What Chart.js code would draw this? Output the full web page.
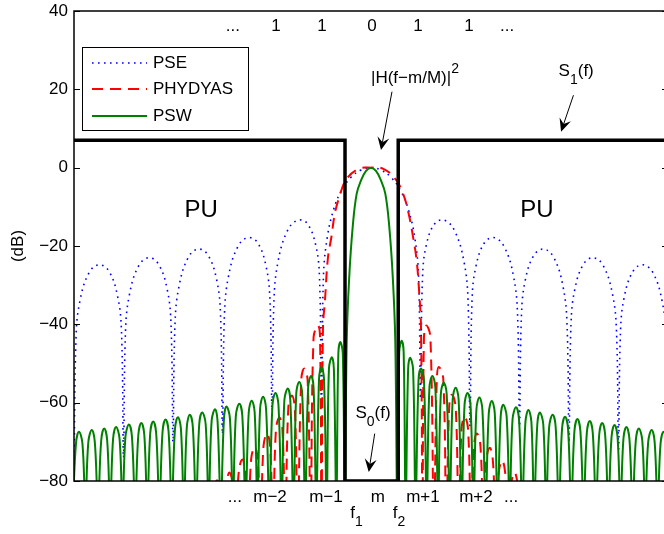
<!DOCTYPE html>
<html>
<head>
<meta charset="utf-8">
<script src="https://cdn.jsdelivr.net/npm/chart.js@4/dist/chart.umd.min.js"></script>
<style>
  html, body { margin: 0; padding: 0; background: #fff; overflow: hidden; }
</style>
</head>
<body>
<canvas id="graph" width="680" height="534"></canvas>
<script>
// x is in subcarrier spacings around m, y in dB

const tickPos = [-2.75, -2.04, -0.91, 0.14, 1.05, 2.12, 2.83]
const tickLabels = ['...', 'm\u22122', 'm\u22121', 'm', 'm+1', 'm+2', '...']

const topLabels = ['...', '1', '1', '0', '1', '1', '...']
const topLabelX = [-2.79, -1.92, -0.99, 0.02, 0.95, 1.98, 2.75]

const seriesNames = ['PSE', 'PHYDYAS', 'PSW']

const pseX = [
  -6.0, -5.96, -5.88, -5.7, -5.5, -5.3, -5.12, -5.04,
  -5.0, -4.96, -4.88, -4.7, -4.5, -4.3, -4.12, -4.04,
  -4.0, -3.96, -3.88, -3.7, -3.5, -3.3, -3.12, -3.04,
  -3.0, -2.96, -2.88, -2.7, -2.5, -2.3, -2.12, -2.04,
  -2.0, -1.96, -1.88, -1.7, -1.5, -1.3, -1.12, -1.04,
  -1.0, -0.96, -0.88, -0.75, -0.6, -0.4, -0.2, 0,
  0.2, 0.4, 0.6, 0.75, 0.88, 0.96, 1.0,
  1.04, 1.12, 1.3, 1.5, 1.7, 1.88, 1.96, 2.0,
  2.04, 2.12, 2.3, 2.5, 2.7, 2.88, 2.96, 3.0,
  3.04, 3.12, 3.3, 3.5, 3.7, 3.88, 3.96, 4.0,
  4.04, 4.12, 4.3, 4.5, 4.7, 4.88, 4.96, 5.0,
  5.04, 5.12, 5.3, 5.5, 5.7, 5.88, 5.96, 6.0
]
const pseY = [
  -85, -43.5, -34.0, -26.9, -24.8, -26.3, -32.8, -42.0,
  -74, -41.9, -32.4, -25.2, -23.0, -24.5, -30.9, -40.1,
  -70, -39.9, -30.4, -23.1, -20.8, -22.2, -28.5, -37.6,
  -68, -37.4, -27.8, -20.4, -17.9, -19.0, -25.2, -34.2,
  -62, -33.8, -24.1, -16.4, -13.5, -14.1, -19.6, -28.3,
  -60, -27.6, -17.5, -10.5, -5.9, -2.4, -0.6, 0,
  -0.6, -2.4, -5.9, -10.5, -17.5, -27.6, -59,
  -28.3, -19.6, -14.1, -13.5, -16.4, -24.1, -33.8, -66,
  -34.2, -25.2, -19.0, -17.9, -20.4, -27.8, -37.4, -66,
  -37.6, -28.5, -22.2, -20.8, -23.1, -30.4, -39.9, -70,
  -40.1, -30.9, -24.5, -23.0, -25.2, -32.4, -41.9, -72,
  -42.0, -32.8, -26.3, -24.8, -26.9, -34.0, -43.5, -85
]

// each sidelobe: null, shoulder, peak, shoulder
const phydyasX = [
  -3.23, -3.17, -3.11, -3.04,
  -2.98, -2.92, -2.86, -2.79,
  -2.73, -2.67, -2.6, -2.54,
  -2.48, -2.42, -2.35, -2.29,
  -2.23, -2.17, -2.1, -2.04,
  -1.98, -1.92, -1.85, -1.79,
  -1.73, -1.67, -1.6, -1.54,
  -1.48, -1.41, -1.35, -1.28,
  -1.22, -1.16, -1.07, -1.03,
  -1.0, -0.97, -0.93, -0.87, -0.8, -0.73, -0.63, -0.5, -0.25, 0,
  0.25, 0.5, 0.66, 0.76, 0.85, 0.92, 0.97, 1.01,
  1.04, 1.07, 1.12, 1.2,
  1.27, 1.33, 1.37, 1.46,
  1.52, 1.58, 1.63, 1.71,
  1.77, 1.83, 1.89, 1.96,
  2.02, 2.08, 2.14, 2.21,
  2.27, 2.33, 2.4, 2.46,
  2.52, 2.58, 2.65, 2.71,
  2.77, 2.83, 2.9, 2.96,
  3.02, 3.08, 3.15, 3.21, 3.27
]
const phydyasY = [
  -90, -82.8, -79.8, -82.8,
  -90, -80.8, -77.8, -80.8,
  -90, -77.5, -74.5, -77.5,
  -90, -74.3, -71.3, -74.3,
  -90, -70.9, -67.9, -70.9,
  -90, -66.8, -63.8, -66.8,
  -90, -61.2, -58.2, -61.2,
  -90, -54.3, -51.3, -54.3,
  -90, -43.3, -40.3, -43.3,
  -90, -40.8, -33.9, -23, -17.7, -11.7, -7.1, -3, -0.3, 0,
  -0.3, -3, -7.1, -11.7, -17.7, -23.5, -31.2, -40.8,
  -90, -43.3, -40.3, -43.3,
  -90, -53.9, -50.9, -53.9,
  -90, -61, -58, -61,
  -90, -66.6, -63.6, -66.6,
  -90, -70.9, -67.9, -70.9,
  -90, -74.5, -71.5, -74.5,
  -90, -77.8, -74.8, -77.8,
  -90, -80.8, -77.8, -80.8,
  -90, -82.8, -79.8, -82.8, -90
]

// each sidelobe: null, shoulder, peak, shoulder
const pswX = [
  -6.02, -5.96, -5.90, -5.83,
  -5.77, -5.71, -5.64, -5.58,
  -5.515, -5.45, -5.39, -5.33,
  -5.27, -5.21, -5.15, -5.08,
  -5.02, -4.96, -4.89, -4.83,
  -4.765, -4.70, -4.64, -4.58,
  -4.52, -4.46, -4.40, -4.34,
  -4.275, -4.21, -4.15, -4.09,
  -4.025, -3.96, -3.90, -3.84,
  -3.78, -3.72, -3.66, -3.60,
  -3.535, -3.47, -3.41, -3.34,
  -3.28, -3.22, -3.15, -3.10,
  -3.035, -2.97, -2.92, -2.85,
  -2.79, -2.73, -2.66, -2.60,
  -2.535, -2.47, -2.41, -2.35,
  -2.295, -2.24, -2.18, -2.12,
  -2.055, -1.99, -1.93, -1.87,
  -1.805, -1.75, -1.68, -1.63,
  -1.565, -1.51, -1.45, -1.39,
  -1.33, -1.27, -1.21, -1.16,
  -1.105, -1.05, -1.00, -0.95,
  -0.895, -0.85, -0.79, -0.75,
  -0.70, -0.66, -0.62, -0.57,
  -0.53, -0.49, -0.44, -0.37, -0.29, -0.2, -0.1, 0, 0.1, 0.2, 0.29, 0.37, 0.44, 0.49,
  0.53, 0.57, 0.62, 0.66,
  0.70, 0.75, 0.79, 0.85,
  0.90, 0.96, 1.01, 1.07,
  1.125, 1.18, 1.24, 1.30,
  1.355, 1.41, 1.47, 1.53,
  1.59, 1.65, 1.71, 1.77,
  1.83, 1.89, 1.95, 2.01,
  2.07, 2.13, 2.19, 2.25,
  2.315, 2.38, 2.44, 2.50,
  2.555, 2.62, 2.67, 2.74,
  2.80, 2.86, 2.93, 2.99,
  3.055, 3.12, 3.18, 3.24,
  3.295, 3.36, 3.41, 3.48,
  3.54, 3.60, 3.67, 3.73,
  3.795, 3.86, 3.92, 3.98,
  4.045, 4.11, 4.17, 4.23,
  4.295, 4.36, 4.42, 4.48,
  4.545, 4.61, 4.67, 4.73,
  4.795, 4.86, 4.92, 4.98,
  5.04, 5.10, 5.16, 5.22,
  5.285, 5.35, 5.41, 5.48,
  5.54, 5.60, 5.67, 5.73,
  5.79, 5.85, 5.91, 5.97, 6.03
]
const pswY = [
  -86, -70.4, -67.4, -70.4,
  -86, -70.0, -67.0, -70.0,
  -86, -69.6, -66.6, -69.6,
  -86, -69.2, -66.2, -69.2,
  -86, -68.6, -65.6, -68.6,
  -86, -68.2, -65.2, -68.2,
  -86, -67.8, -64.8, -67.8,
  -86, -67.3, -64.3, -67.3,
  -86, -66.7, -63.7, -66.7,
  -86, -66.1, -63.1, -66.1,
  -86, -65.5, -62.5, -65.5,
  -86, -64.7, -61.7, -64.7,
  -86, -64.0, -61.0, -64.0,
  -86, -63.3, -60.3, -63.3,
  -86, -62.5, -59.5, -62.5,
  -86, -61.5, -58.5, -61.5,
  -86, -60.5, -57.5, -60.5,
  -86, -59.4, -56.4, -59.4,
  -86, -57.7, -54.7, -57.7,
  -86, -56.2, -53.2, -56.2,
  -86, -53.9, -50.9, -53.9,
  -86, -51.4, -48.4, -51.4,
  -86, -47.5, -44.5, -47.5,
  -86, -44, -28, -15.2, -6.7, -3.2, -0.8, 0, -0.8, -3.2, -6.7, -15.2, -28, -44,
  -86, -47.2, -44.2, -47.2,
  -86, -51.5, -48.5, -51.5,
  -86, -54.3, -51.3, -54.3,
  -86, -56.2, -53.2, -56.2,
  -86, -57.9, -54.9, -57.9,
  -86, -59.2, -56.2, -59.2,
  -86, -60.5, -57.5, -60.5,
  -86, -61.7, -58.7, -61.7,
  -86, -62.6, -59.6, -62.6,
  -86, -63.5, -60.5, -63.5,
  -86, -64.2, -61.2, -64.2,
  -86, -64.9, -61.9, -64.9,
  -86, -65.5, -62.5, -65.5,
  -86, -66.1, -63.1, -66.1,
  -86, -66.6, -63.6, -66.6,
  -86, -67.2, -64.2, -67.2,
  -86, -67.7, -64.7, -67.7,
  -86, -68.2, -65.2, -68.2,
  -86, -68.7, -65.7, -68.7,
  -86, -69.2, -66.2, -69.2,
  -86, -69.6, -66.6, -69.6,
  -86, -70.0, -67.0, -70.0,
  -86, -70.4, -67.4, -70.4, -86
]

// spectrum mask S(f): PU bands at the top, the gap f1..f2 at the floor
const maskX = [-6, -0.525, -0.525, 0.55, 0.55, 6]
const maskY = [7, 7, -80, -80, 7, 7]

const FONT = '"Liberation Sans", Arial, sans-serif'
Chart.defaults.font.family = FONT
Chart.defaults.font.size = 17
Chart.defaults.color = '#000'

function points(xs, ys) {
  return xs.map((x, i) => ({ x, y: ys[i] }))
}

// text pieces: [text, shift] with shift 1 = subscript, -1 = superscript
function richText(ctx, x, y, parts, size) {
  let cx = x
  parts.forEach(([text, shift]) => {
    const fs = shift ? 14 : size
    ctx.font = fs + 'px ' + FONT
    ctx.fillText(text, cx, y + (shift > 0 ? 8 : shift < 0 ? -10 : 0))
    cx += ctx.measureText(text).width
  })
}

function arrow(ctx, x1, y1, x2, y2) {
  const ang = Math.atan2(y2 - y1, x2 - x1)
  ctx.lineWidth = 1
  ctx.beginPath()
  ctx.moveTo(x1, y1)
  ctx.lineTo(x2 - Math.cos(ang) * 8, y2 - Math.sin(ang) * 8)
  ctx.stroke()
  ctx.save()
  ctx.translate(x2, y2)
  ctx.rotate(ang)
  ctx.beginPath()
  ctx.moveTo(0, 0)
  ctx.lineTo(-13, -6)
  ctx.lineTo(-8, 0)
  ctx.lineTo(-13, 6)
  ctx.closePath()
  ctx.fill()
  ctx.restore()
}

const notes = [
  { x: 0.0, y: 21.6, parts: [['|H(f\u2212m/M)|', 0], ['2', -1]] },
  { x: 3.79, y: 23.4, parts: [['S', 0], ['1', 1], ['(f)', 0]] },
  { x: -0.315, y: -64.0, parts: [['S', 0], ['0', 1], ['(f)', 0]] },
  { x: -0.42, y: -89.5, parts: [['f', 0], ['1', 1]] },
  { x: 0.44, y: -89.5, parts: [['f', 0], ['2', 1]] }
]

const arrows = [
  { from: [0.424, 19.4], to: [0.202, 4.5] },
  { from: [4.09, 18.5], to: [3.84, 9.2] },
  { from: [0.075, -67.9], to: [-0.046, -77.7] }
]

const decor = {
  id: 'decor',
  afterDatasetsDraw(chart) {
    const { ctx, chartArea: a } = chart
    const xs = chart.scales.x
    const ys = chart.scales.y
    const px = v => xs.getPixelForValue(v)
    const py = v => ys.getPixelForValue(v)

    ctx.save()
    ctx.strokeStyle = '#000'
    ctx.fillStyle = '#000'

    // box and inward ticks
    ctx.lineWidth = 1.5
    ctx.strokeRect(a.left, a.top, a.right - a.left, a.bottom - a.top)
    ctx.lineWidth = 1
    ys.ticks.forEach(t => {
      const y = Math.round(py(t.value)) + 0.5
      ctx.beginPath()
      ctx.moveTo(a.left, y)
      ctx.lineTo(a.left + 6, y)
      ctx.moveTo(a.right, y)
      ctx.lineTo(a.right - 6, y)
      ctx.stroke()
    })

    // top row of labels
    ctx.font = '17px ' + FONT
    ctx.textAlign = 'center'
    ctx.textBaseline = 'alphabetic'
    topLabels.forEach((t, i) => ctx.fillText(t, px(topLabelX[i]), py(34.9)))

    // PU bands
    ctx.font = '24px ' + FONT
    ctx.textBaseline = 'middle'
    ctx.fillText('PU', px(-3.43), py(-10.8))
    ctx.fillText('PU', px(3.35), py(-10.8))

    ctx.textAlign = 'left'
    ctx.textBaseline = 'alphabetic'
    notes.forEach(n => richText(ctx, px(n.x), py(n.y), n.parts, 17))
    arrows.forEach(r => arrow(ctx, px(r.from[0]), py(r.from[1]), px(r.to[0]), py(r.to[1])))

    // legend
    const bx = a.left + 8, by = a.top + 36, bw = 166, bh = 83
    ctx.fillStyle = '#fff'
    ctx.fillRect(bx, by, bw, bh)
    ctx.lineWidth = 1
    ctx.strokeRect(bx + 0.5, by + 0.5, bw, bh)
    ctx.font = '17px ' + FONT
    ctx.textBaseline = 'middle'
    chart.data.datasets.slice(0, 3).forEach((ds, i) => {
      const ly = Math.round(by + 16 + i * 26.3)
      ctx.strokeStyle = ds.borderColor
      ctx.lineWidth = ds.borderWidth
      ctx.setLineDash(ds.borderDash || [])
      ctx.beginPath()
      ctx.moveTo(bx + 10, ly)
      ctx.lineTo(bx + 65, ly)
      ctx.stroke()
      ctx.setLineDash([])
      ctx.fillStyle = '#000'
      ctx.fillText(ds.label, bx + 71, ly)
    })
    ctx.restore()
  }
}

new Chart(document.getElementById('graph'), {
  type: 'line',
  data: {
    datasets: [{
      label: seriesNames[0],
      data: points(pseX, pseY),
      borderColor: '#0000ff',
      borderWidth: 1.6,
      borderDash: [1.6, 4.4],
      tension: 0.4,
      order: 4
    }, {
      label: seriesNames[1],
      data: points(phydyasX, phydyasY),
      borderColor: '#ff0000',
      borderWidth: 2,
      borderDash: [11, 7],
      tension: 0.4,
      order: 3
    }, {
      label: seriesNames[2],
      data: points(pswX, pswY),
      borderColor: '#008000',
      borderWidth: 2,
      tension: 0.4,
      order: 2
    }, {
      label: 'S(f)',
      data: points(maskX, maskY),
      borderColor: '#000',
      borderWidth: 3.5,
      borderJoinStyle: 'miter',
      tension: 0,
      order: 1
    }]
  },
  options: {
    responsive: false,
    animation: false,
    events: [],
    elements: { point: { radius: 0 } },
    layout: { padding: { top: 11, right: 12, left: 0, bottom: 0 } },
    plugins: { legend: { display: false }, tooltip: { enabled: false } },
    scales: {
      x: {
        type: 'linear',
        min: -6,
        max: 6,
        grid: { display: false, drawTicks: false },
        border: { display: false },
        afterBuildTicks: axis => { axis.ticks = tickPos.map(v => ({ value: v })) },
        afterFit: axis => {
          axis.height = 53
          axis.paddingLeft = 0
          axis.paddingRight = 0
        },
        ticks: {
          autoSkip: false,
          maxRotation: 0,
          padding: 6,
          callback: (value, index) => tickLabels[index]
        }
      },
      y: {
        min: -80,
        max: 40,
        grid: { display: false, drawTicks: false },
        border: { display: false },
        afterFit: axis => {
          axis.width = 74
          axis.paddingTop = 0
          axis.paddingBottom = 0
        },
        ticks: {
          stepSize: 20,
          padding: 6,
          callback: value => String(value).replace('-', '\u2212')
        },
        title: { display: true, text: '(dB)', padding: { top: 8, bottom: 0 } }
      }
    }
  },
  plugins: [decor]
})
</script>
</body>
</html>
